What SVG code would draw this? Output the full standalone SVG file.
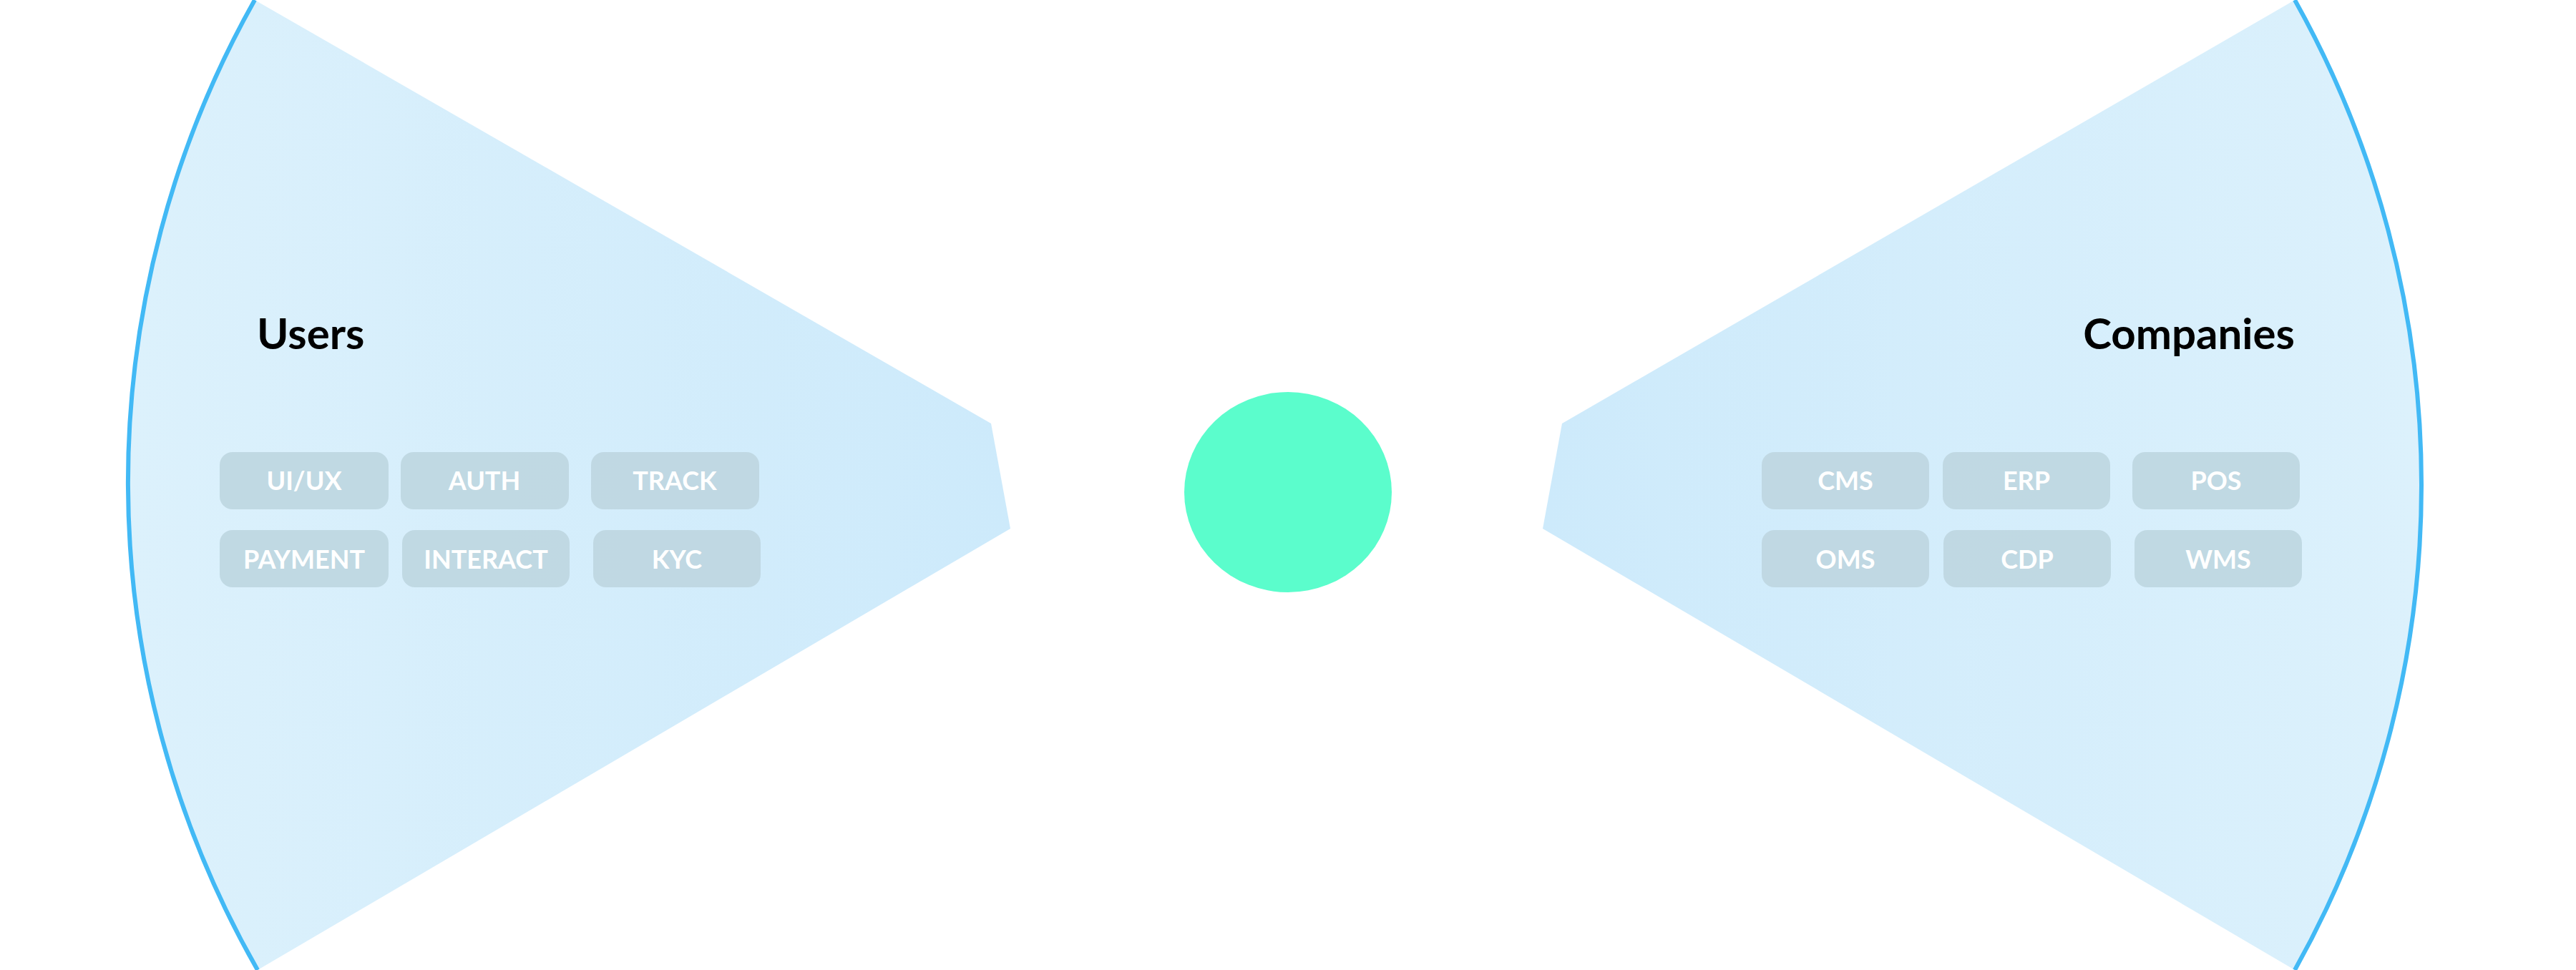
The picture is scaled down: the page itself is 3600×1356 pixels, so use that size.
<svg xmlns="http://www.w3.org/2000/svg" width="3600" height="1356" viewBox="0 0 3600 1356">
<defs>
<linearGradient id="gl" x1="0" x2="1" y1="0" y2="0"><stop offset="0" stop-color="#dcf1fc"/><stop offset="1" stop-color="#cdeafb"/></linearGradient>
<linearGradient id="gr" x1="1" x2="0" y1="0" y2="0"><stop offset="0" stop-color="#dcf1fc"/><stop offset="1" stop-color="#cdeafb"/></linearGradient>
<style>
.arc{fill:none;stroke:#42b9f5;stroke-width:6}
.box{fill:#bfd7e2;opacity:0.95}
.bt{font-family:Lato,"Open Sans",sans-serif;font-weight:700;font-size:36px;fill:#ffffff;text-anchor:middle}
.title{font-family:Lato,"Open Sans",sans-serif;font-weight:700;font-size:60px;fill:#000000}
</style>
</defs>
<g id="users">
<path d="M356,0 A1373,1373 0 0 0 360,1356 L1412,739 L1385,592 Z" fill="url(#gl)"/>
<path class="arc" d="M356,0 A1373,1373 0 0 0 360,1356"/>
<text class="title" x="359" y="488">Users</text>
<g id="uiux"><rect class="box" x="307" y="632" width="236" height="80" rx="18"/><text class="bt" x="425" y="685">UI/UX</text></g>
<g id="auth"><rect class="box" x="560" y="632" width="235" height="80" rx="18"/><text class="bt" x="677" y="685">AUTH</text></g>
<g id="track"><rect class="box" x="826" y="632" width="235" height="80" rx="18"/><text class="bt" x="943" y="685">TRACK</text></g>
<g id="payment"><rect class="box" x="307" y="741" width="236" height="80" rx="18"/><text class="bt" x="425" y="795">PAYMENT</text></g>
<g id="interact"><rect class="box" x="562" y="741" width="234" height="80" rx="18"/><text class="bt" x="679" y="795">INTERACT</text></g>
<g id="kyc"><rect class="box" x="829" y="741" width="234" height="80" rx="18"/><text class="bt" x="946" y="795">KYC</text></g>
</g>
<g id="companies">
<path d="M3207,0 A1387,1387 0 0 1 3207,1356 L2156,739 L2183,592 Z" fill="url(#gr)"/>
<path class="arc" d="M3207,0 A1387,1387 0 0 1 3207,1356"/>
<text class="title" x="3207" y="488" text-anchor="end">Companies</text>
<g id="cms"><rect class="box" x="2462" y="632" width="234" height="80" rx="18"/><text class="bt" x="2579" y="685">CMS</text></g>
<g id="erp"><rect class="box" x="2715" y="632" width="234" height="80" rx="18"/><text class="bt" x="2832" y="685">ERP</text></g>
<g id="pos"><rect class="box" x="2980" y="632" width="234" height="80" rx="18"/><text class="bt" x="3097" y="685">POS</text></g>
<g id="oms"><rect class="box" x="2462" y="741" width="234" height="80" rx="18"/><text class="bt" x="2579" y="795">OMS</text></g>
<g id="cdp"><rect class="box" x="2716" y="741" width="234" height="80" rx="18"/><text class="bt" x="2833" y="795">CDP</text></g>
<g id="wms"><rect class="box" x="2983" y="741" width="234" height="80" rx="18"/><text class="bt" x="3100" y="795">WMS</text></g>
</g>
<g id="hub"><ellipse cx="1800" cy="688" rx="145" ry="140" fill="#5bfdcc"/></g>
<g id="connectors"/>
</svg>
